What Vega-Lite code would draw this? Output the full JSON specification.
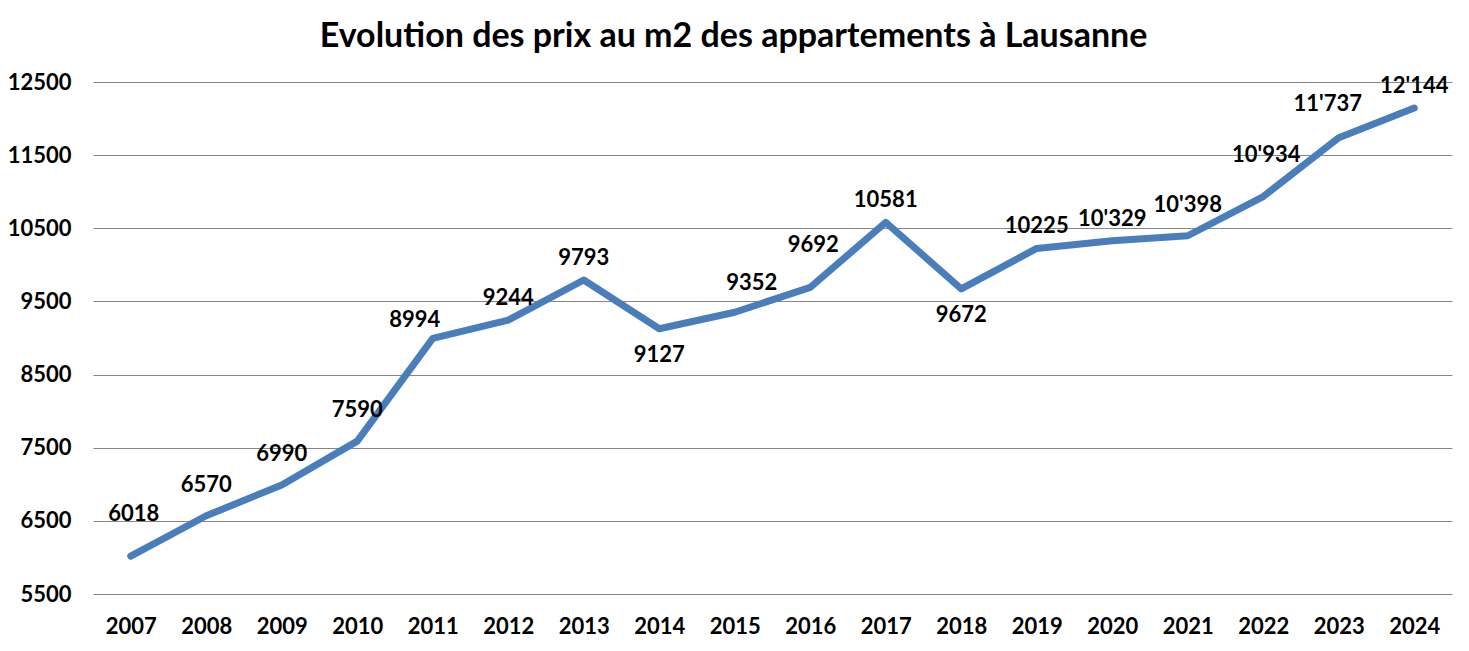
{
  "$schema": "https://vega.github.io/schema/vega-lite/v6.json",
  "width": 1359,
  "height": 512,
  "autosize": {"type": "none"},
  "padding": {"left": 93, "top": 82, "right": 17, "bottom": 57},
  "background": "white",
  "config": {"view": {"stroke": null}, "font": "Lato"},
  "title": {
    "text": "Evolution des prix au m2 des appartements à Lausanne",
    "font": "Lato",
    "fontSize": 34,
    "fontWeight": "bold",
    "color": "#000000",
    "anchor": "middle",
    "frame": "bounds",
    "baseline": "alphabetic",
    "offset": -10,
    "dx": 4
  },
  "data": {
    "values": [
      {"year": "2007", "price": 6018, "label": "6018"},
      {"year": "2008", "price": 6570, "label": "6570"},
      {"year": "2009", "price": 6990, "label": "6990"},
      {"year": "2010", "price": 7590, "label": "7590"},
      {"year": "2011", "price": 8994, "label": "8994"},
      {"year": "2012", "price": 9244, "label": "9244"},
      {"year": "2013", "price": 9793, "label": "9793"},
      {"year": "2014", "price": 9127, "label": "9127"},
      {"year": "2015", "price": 9352, "label": "9352"},
      {"year": "2016", "price": 9692, "label": "9692"},
      {"year": "2017", "price": 10581, "label": "10581"},
      {"year": "2018", "price": 9672, "label": "9672"},
      {"year": "2019", "price": 10225, "label": "10225"},
      {"year": "2020", "price": 10329, "label": "10'329"},
      {"year": "2021", "price": 10398, "label": "10'398"},
      {"year": "2022", "price": 10934, "label": "10'934"},
      {"year": "2023", "price": 11737, "label": "11'737"},
      {"year": "2024", "price": 12144, "label": "12'144"}
    ]
  },
  "encoding": {
    "x": {
      "field": "year",
      "type": "ordinal",
      "scale": {"type": "point", "padding": 0.5},
      "axis": {
        "title": null,
        "labelAngle": 0,
        "labelFont": "Lato",
        "labelFontSize": 22,
        "labelFontWeight": "bold",
        "labelColor": "#000000",
        "labelPadding": 22,
        "ticks": false,
        "domain": false,
        "grid": false
      }
    },
    "y": {
      "field": "price",
      "type": "quantitative",
      "scale": {"domain": [5500, 12500], "nice": false, "zero": false},
      "axis": {
        "title": null,
        "values": [5500, 6500, 7500, 8500, 9500, 10500, 11500, 12500],
        "format": "d",
        "labelFont": "Lato",
        "labelFontSize": 22,
        "labelFontWeight": "bold",
        "labelColor": "#000000",
        "labelPadding": 22,
        "ticks": false,
        "domain": false,
        "grid": true,
        "gridColor": "#868686",
        "gridWidth": 1
      }
    }
  },
  "layer": [
    {
      "mark": {"type": "line", "color": "#4A7EBB", "strokeWidth": 7, "strokeCap": "round", "strokeJoin": "round"}
    },
    {
      "transform": [{"filter": {"field": "year", "oneOf": ["2007", "2016", "2022"]}}],
      "mark": {"type": "text", "font": "Lato", "fontSize": 22, "fontWeight": "bold", "color": "#000000", "baseline": "middle", "dy": -42, "dx": 3},
      "encoding": {"text": {"field": "label"}}
    },
    {
      "transform": [{"filter": {"field": "year", "oneOf": ["2008", "2009", "2010", "2021"]}}],
      "mark": {"type": "text", "font": "Lato", "fontSize": 22, "fontWeight": "bold", "color": "#000000", "baseline": "middle", "dy": -31},
      "encoding": {"text": {"field": "label"}}
    },
    {
      "transform": [{"filter": {"field": "year", "oneOf": ["2015"]}}],
      "mark": {"type": "text", "font": "Lato", "fontSize": 22, "fontWeight": "bold", "color": "#000000", "baseline": "middle", "dy": -29, "dx": 17},
      "encoding": {"text": {"field": "label"}}
    },
    {
      "transform": [{"filter": {"field": "year", "oneOf": ["2023"]}}],
      "mark": {"type": "text", "font": "Lato", "fontSize": 22, "fontWeight": "bold", "color": "#000000", "baseline": "middle", "dy": -34, "dx": -11},
      "encoding": {"text": {"field": "label"}}
    },
    {
      "transform": [{"filter": {"field": "year", "oneOf": ["2012", "2013", "2017", "2019", "2020", "2024"]}}],
      "mark": {"type": "text", "font": "Lato", "fontSize": 22, "fontWeight": "bold", "color": "#000000", "baseline": "middle", "dy": -22},
      "encoding": {"text": {"field": "label"}}
    },
    {
      "transform": [{"filter": {"field": "year", "oneOf": ["2011"]}}],
      "mark": {"type": "text", "font": "Lato", "fontSize": 22, "fontWeight": "bold", "color": "#000000", "baseline": "middle", "dy": -18, "dx": -18},
      "encoding": {"text": {"field": "label"}}
    },
    {
      "transform": [{"filter": {"field": "year", "oneOf": ["2014", "2018"]}}],
      "mark": {"type": "text", "font": "Lato", "fontSize": 22, "fontWeight": "bold", "color": "#000000", "baseline": "middle", "dy": 26},
      "encoding": {"text": {"field": "label"}}
    }
  ]
}
